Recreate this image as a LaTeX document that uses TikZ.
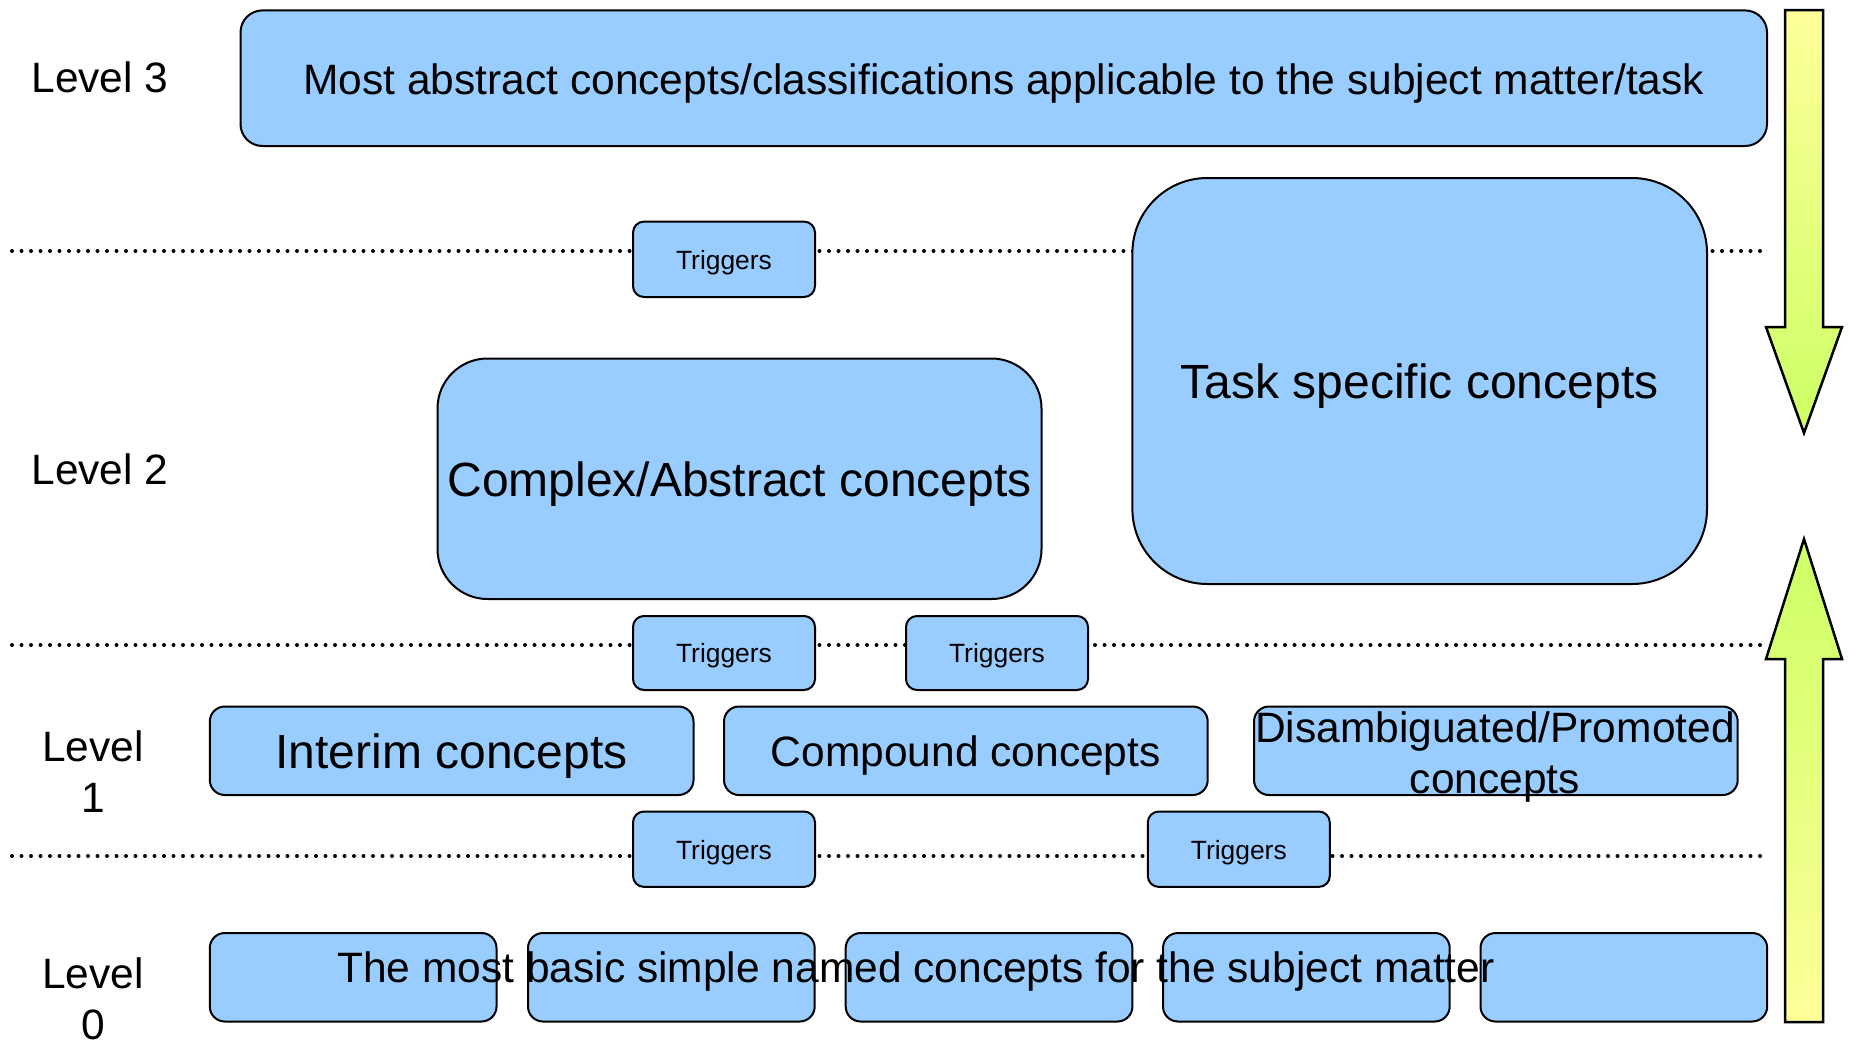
\documentclass[tikz,border=0pt]{standalone}
\usepackage{fontspec}
\setmainfont{Liberation Sans}
\definecolor{boxblue}{HTML}{99CCFF}
\definecolor{arrowyellow}{HTML}{FFFF99}
\definecolor{arrowgreen}{HTML}{CCFF66}
\newcommand{\mylower}[1]{\raisebox{-5pt}[\height][\depth]{#1}}
\tikzset{
  cbox/.style={draw=black, line width=2pt, fill=boxblue, anchor=north west, inner sep=0pt, align=center, text=black},
  bigfont/.style={font=\fontsize{48pt}{56pt}\selectfont},
  midfont/.style={font=\fontsize{42.5pt}{51pt}\selectfont},
  smallfont/.style={font=\fontsize{26.4pt}{31pt}\selectfont},
  dotline/.style={line width=4pt, line cap=round, dash pattern=on 0pt off 9.5pt},
  bigarrow/.style={draw=black, line width=2.5pt, line join=miter}
}
\begin{document}
\begin{tikzpicture}[x=1pt,y=-1pt]
\useasboundingbox (0,0) rectangle (1850,1047);
% dotted level separators
\coordinate (d1l) at (12,251);   \coordinate (d1r) at (1768,251);
\coordinate (d2l) at (12,645);   \coordinate (d2r) at (1768,645);
\coordinate (d3l) at (12,856);   \coordinate (d3r) at (1768,856);
\draw[dotline] (d1l) -- (d1r);
\draw[dotline] (d2l) -- (d2r);
\draw[dotline] (d3l) -- (d3r);
% level 3
\node[cbox, midfont, rounded corners=22pt, minimum width=1526.5pt, minimum height=135.6pt] (l3) at (239.5,9.4) {\mylower{Most abstract concepts/classifications applicable to the subject matter/task}};
% level 2
\node[cbox, bigfont, rounded corners=75pt, minimum width=574.6pt, minimum height=406pt] (task) at (1131.4,177) {\mylower{Task specific concepts}};
\node[cbox, bigfont, rounded corners=50pt, minimum width=604pt, minimum height=240.5pt] (complex) at (436.5,357.5) {\mylower{Complex/Abstract concepts}};
% triggers
\node[cbox, smallfont, rounded corners=11pt, minimum width=182pt, minimum height=75.4pt] (t1) at (632,220.6) {\raisebox{-3pt}[\height][\depth]{Triggers}};
\node[cbox, smallfont, rounded corners=11pt, minimum width=182pt, minimum height=74pt] (t2) at (632,615) {\raisebox{-3pt}[\height][\depth]{Triggers}};
\node[cbox, smallfont, rounded corners=11pt, minimum width=182pt, minimum height=74pt] (t3) at (905,615) {\raisebox{-3pt}[\height][\depth]{Triggers}};
\node[cbox, smallfont, rounded corners=11pt, minimum width=182pt, minimum height=75.4pt] (t4) at (632,810.5) {\raisebox{-3pt}[\height][\depth]{Triggers}};
\node[cbox, smallfont, rounded corners=11pt, minimum width=182pt, minimum height=75.4pt] (t5) at (1146.8,810.5) {\raisebox{-3pt}[\height][\depth]{Triggers}};
% level 1
\node[cbox, bigfont, rounded corners=15pt, minimum width=483.7pt, minimum height=88.5pt] (interim) at (208.8,705.5) {\mylower{Interim concepts}};
\node[cbox, midfont, rounded corners=15pt, minimum width=483.7pt, minimum height=88.5pt] (compound) at (723,705.5) {\mylower{Compound concepts}};
\node[cbox, midfont, rounded corners=15pt, minimum width=483.7pt, minimum height=88.5pt] (disamb) at (1253,705.5) {};
\node[midfont, align=center, inner sep=0pt] (disambtxt) at (1495,757) {Disambiguated/Promoted\\concepts};
% level 0
\node[cbox, rounded corners=15pt, minimum width=286.7pt, minimum height=88.5pt] (b1) at (208.8,932) {};
\node[cbox, rounded corners=15pt, minimum width=286.7pt, minimum height=88.5pt] (b2) at (527,932) {};
\node[cbox, rounded corners=15pt, minimum width=286.7pt, minimum height=88.5pt] (b3) at (844.7,932) {};
\node[cbox, rounded corners=15pt, minimum width=286.7pt, minimum height=88.5pt] (b4) at (1162,932) {};
\node[cbox, rounded corners=15pt, minimum width=286.7pt, minimum height=88.5pt] (b5) at (1479.5,932) {};
\node[midfont, inner sep=0pt] (basic) at (916,971) {The most basic simple named concepts for the subject matter};
% level labels
\node[midfont, align=center, inner sep=0pt] (lab3) at (100,77) {Level 3};
\node[midfont, align=center, inner sep=0pt] (lab2) at (100,469.6) {Level 2};
\node[midfont, align=center, inner sep=0pt] (lab1) at (93,772) {Level\\1};
\node[midfont, align=center, inner sep=0pt] (lab0) at (93,998.7) {Level\\0};
% big arrows
\draw[bigarrow, top color=arrowyellow, bottom color=arrowgreen]
  (1785,10) -- (1823,10) -- (1823,327) -- (1842,327) -- (1804,433) -- (1766,327) -- (1785,327) -- cycle;
\draw[bigarrow, top color=arrowgreen, bottom color=arrowyellow]
  (1804,539) -- (1842,659) -- (1823,659) -- (1823,1022) -- (1785,1022) -- (1785,659) -- (1766,659) -- cycle;
\end{tikzpicture}
\end{document}
